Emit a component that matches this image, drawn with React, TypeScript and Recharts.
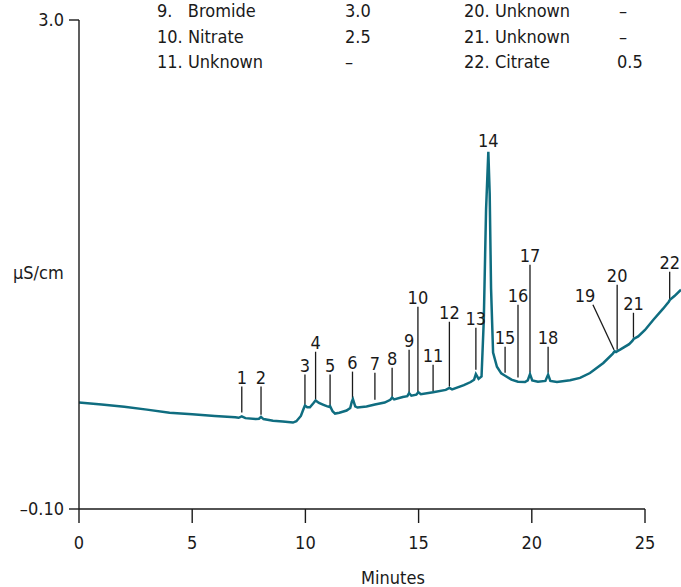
import React from 'react';
import { LineChart, Line, XAxis, YAxis, ReferenceLine, ReferenceDot } from 'recharts';

const FONT = "'Liberation Sans Narrow', 'Arial Narrow', 'DejaVu Sans Condensed', sans-serif";
const TRACE = '#0f6d80';
const INK = '#1a1a1a';

// chromatogram trace (minutes, µS/cm)
const times = [
  0, 1, 2, 3, 4, 5, 6, 6.9, 7.05, 7.19, 7.35, 7.8, 7.95, 8.04, 8.15, 8.57, 9.0, 9.45,
  9.6, 9.8, 9.92, 9.98, 10.08, 10.2, 10.35, 10.45, 10.6, 10.8, 10.94, 11.05, 11.09, 11.2,
  11.31, 11.5, 11.82, 11.98, 12.05, 12.1, 12.2, 12.3, 12.7, 13.07, 13.5, 13.75, 13.83,
  13.92, 14.3, 14.5, 14.58, 14.68, 14.9, 14.99, 15.1, 15.64, 16.2, 16.36, 16.48, 17.0,
  17.3, 17.45, 17.53, 17.65, 17.78, 17.88, 17.98, 18.08, 18.14, 18.2, 18.29, 18.46,
  18.65, 18.82, 19.1, 19.39, 19.7, 19.82, 19.92, 20.02, 20.27, 20.6, 20.72, 20.82,
  21.11, 21.69, 22.13, 22.57, 23.16, 23.58, 23.66, 23.72, 23.8, 23.9, 24.3, 24.44,
  24.5, 24.7, 25.0, 25.37, 25.8, 26.05, 26.1, 26.3, 26.59,
];
const signal = [
  0.575, 0.563, 0.548, 0.53, 0.51, 0.5, 0.49, 0.481, 0.478, 0.487, 0.476, 0.47, 0.472,
  0.484, 0.47, 0.46, 0.455, 0.448, 0.456, 0.49, 0.535, 0.556, 0.545, 0.545, 0.57, 0.588,
  0.572, 0.56, 0.552, 0.548, 0.552, 0.52, 0.505, 0.51, 0.524, 0.54, 0.58, 0.596, 0.55,
  0.543, 0.55, 0.562, 0.575, 0.592, 0.606, 0.595, 0.61, 0.615, 0.635, 0.618, 0.625,
  0.64, 0.628, 0.64, 0.655, 0.668, 0.658, 0.685, 0.705, 0.72, 0.755, 0.725, 0.74, 1.1,
  1.8, 2.164, 1.9, 1.3, 0.891, 0.802, 0.76, 0.745, 0.72, 0.707, 0.705, 0.715, 0.755,
  0.715, 0.707, 0.712, 0.752, 0.712, 0.705, 0.716, 0.731, 0.762, 0.826, 0.885, 0.9,
  0.895, 0.902, 0.91, 0.945, 0.965, 0.978, 0.994, 1.035, 1.1, 1.17, 1.214, 1.226,
  1.25, 1.29,
];

// peak annotations
const peakIds = [
  '1', '2', '3', '4', '5', '6', '7', '8', '9', '10', '11', '12', '13', '14', '15', '16',
  '17', '18', '19', '20', '21', '22',
];
const peakTimes = [
  7.19, 8.04, 9.98, 10.45, 11.09, 12.08, 13.07, 13.83, 14.58, 14.97, 15.64, 16.36,
  17.53, 18.08, 18.82, 19.39, 19.92, 20.72, 23.63, 23.77, 24.49, 26.09,
];
const markerTopTimes = [
  7.19, 8.04, 9.98, 10.45, 11.09, 12.08, 13.07, 13.83, 14.58, 14.97, 15.64, 16.36,
  17.53, 18.08, 18.82, 19.39, 19.92, 20.72, 22.7, 23.77, 24.49, 26.09,
];
const labelTimes = [
  7.19, 8.04, 9.98, 10.45, 11.09, 12.08, 13.07, 13.83, 14.58, 14.97, 15.64, 16.36,
  17.53, 18.08, 18.82, 19.39, 19.92, 20.72, 22.35, 23.77, 24.49, 26.09,
];
const markerTops = [
  0.676, 0.676, 0.752, 0.897, 0.752, 0.771, 0.764, 0.796, 0.91, 1.182, 0.815, 1.087,
  1.049, 2.164, 0.929, 1.195, 1.448, 0.929, 1.195, 1.322, 1.144, 1.404,
];
const markerBottoms = [
  0.511, 0.498, 0.562, 0.593, 0.543, 0.593, 0.593, 0.612, 0.638, 0.638, 0.644, 0.676,
  0.783, 2.164, 0.764, 0.733, 0.764, 0.764, 0.91, 0.91, 0.986, 1.227,
];

const xTicks = [0, 5, 10, 15, 20, 25];
const yTicks = [-0.1, 3.0];

// visible part of the peak table
const tableLeftNames = ['9.   Bromide', '10. Nitrate', '11. Unknown'];
const tableLeftConc = ['3.0', '2.5', '–'];
const tableRightNames = ['20. Unknown', '21. Unknown', '22. Citrate'];
const tableRightConc = ['–', '–', '0.5'];

const traceData = times.map((t, i) => ({ time: t, signal: signal[i] }));

const tickStyle = { fontSize: 18, fill: INK, fontFamily: FONT };

const App: React.FC = () => {
  return (
    <div style={{ position: 'absolute', left: 0, top: 0, width: 681, height: 587, background: '#fff' }}>
      <LineChart width={681} height={587} data={traceData} margin={{ top: 20, right: 0, bottom: 0, left: 19 }}>
        <XAxis
          type="number"
          dataKey="time"
          domain={[0, 26.59]}
          ticks={xTicks}
          interval={0}
          allowDataOverflow
          height={78}
          tickSize={14}
          tickMargin={13}
          axisLine={false}
          tickLine={{ stroke: INK, strokeWidth: 1.4 }}
          tick={tickStyle}
        />
        <YAxis
          type="number"
          domain={[-0.1, 3.0]}
          ticks={yTicks}
          interval={0}
          allowDataOverflow
          width={60}
          tickSize={10}
          tickMargin={5}
          axisLine={{ stroke: INK, strokeWidth: 1.4 }}
          tickLine={{ stroke: INK, strokeWidth: 1.4 }}
          tick={tickStyle}
          tickFormatter={(v: number) => (v > 1 ? '3.0' : '–0.10')}
        />
        <ReferenceLine
          segment={[{ x: 0, y: -0.1 }, { x: 25, y: -0.1 }]}
          stroke={INK}
          strokeWidth={1.4}
          ifOverflow="visible"
        />
        {peakIds.map((id, i) => (
          <ReferenceLine
            key={`m-${id}`}
            segment={[
              { x: markerTopTimes[i], y: markerTops[i] },
              { x: peakTimes[i], y: markerBottoms[i] },
            ]}
            stroke={markerTops[i] === markerBottoms[i] ? 'none' : INK}
            strokeWidth={1.3}
            ifOverflow="visible"
          />
        ))}
        <Line
          type="linear"
          dataKey="signal"
          stroke={TRACE}
          strokeWidth={2.5}
          dot={false}
          isAnimationActive={false}
        />
        {peakIds.map((id, i) => (
          <ReferenceDot
            key={`l-${id}`}
            x={labelTimes[i]}
            y={markerTops[i]}
            r={0}
            fill="none"
            stroke="none"
            ifOverflow="visible"
            label={{ value: id, position: 'top', offset: id === '14' ? 5 : 3, fontSize: 18, fill: INK, fontFamily: FONT }}
          />
        ))}
      </LineChart>
      <svg width={681} height={587} style={{ position: 'absolute', left: 0, top: 0, pointerEvents: 'none' }}>
        <g fontFamily={FONT} fontSize={18} fill={INK}>
          {tableLeftNames.map((n, i) => (
            <text key={`ln-${i}`} x={157} y={17 + i * 25.5} xmlSpace="preserve">{n}</text>
          ))}
          {tableLeftConc.map((c, i) => (
            <text key={`lc-${i}`} x={345} y={17 + i * 25.5}>{c}</text>
          ))}
          {tableRightNames.map((n, i) => (
            <text key={`rn-${i}`} x={464} y={17 + i * 25.5}>{n}</text>
          ))}
          {tableRightConc.map((c, i) => (
            <text key={`rc-${i}`} x={c === '–' ? 619 : 617} y={17 + i * 25.5}>{c}</text>
          ))}
          <text x={13} y={279}>μS/cm</text>
          <text x={393} y={584} textAnchor="middle">Minutes</text>
        </g>
      </svg>
    </div>
  );
};

export default App;
